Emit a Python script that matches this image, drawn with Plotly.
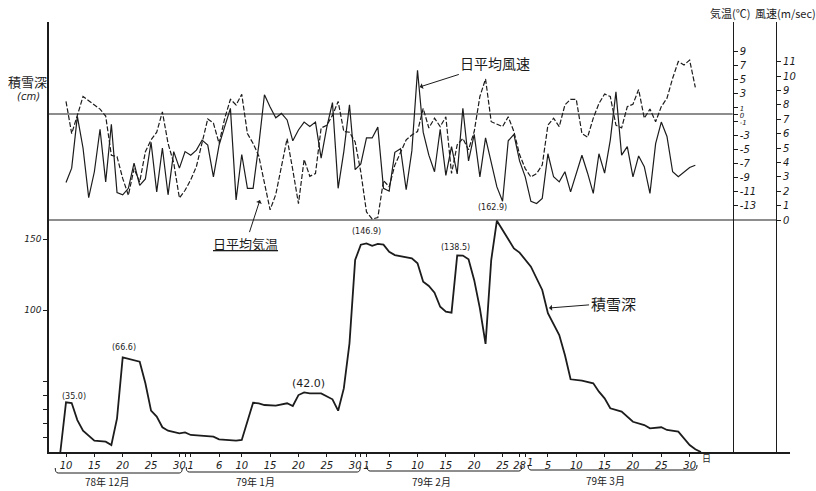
import plotly.graph_objects as go

# Day numbers counted from 1 Dec 1978 (= 1): 1 Jan 1979 = 32, 1 Feb = 63, 1 Mar = 91
obs_days = list(range(10, 122))  # 10 Dec 1978 .. 31 Mar 1979

# daily mean air temperature (deg C)
temp_mean = [
    1.8, -2.8, -0.2, 2.5, 1.9, 1.3, 0.7, -0.3, -5.9, -6.1,
    -9.2, -11.6, -7.8, -9.7, -5.4, -3.7, -2.6, 0.3, -4.2, -7.0,
    -12.0, -10.9, -9.4, -7.5, -4.0, -0.7, -1.3, -4.2, -0.6, 2.1,
    1.3, 2.8, -2.8, -4.2, -6.0, -10.0, -13.7, -11.5, -7.5, -3.5,
    -8.0, -12.8, -6.5, -8.9, -8.5, -2.0, -1.6, -0.2, 1.8, -2.5,
    -2.6, -4.0, -8.3, -14.0, -15.0, -14.8, -9.5, -10.4, -7.3, -5.4,
    -3.7, -3.0, -2.5, 0.8, -2.0, -0.6, -1.8, -0.4, -8.5, -4.4,
    -3.5, -5.1, -2.5, 2.5, 5.0, -1.1, -1.5, -1.8, -0.4, -2.5,
    -5.8, -7.8, -9.0, -8.5, -7.3, -1.6, -0.6, -1.8, 1.3, 2.1,
    2.1, -2.8, -3.3, -0.6, 1.5, 2.85, 2.5, -1.6, -2.0, 1.05,
    1.4, 3.5, -0.6, 0.7, -1.1, 1.05, 2.25, 5.1, 7.5, 7.0,
    7.7, 3.8,
]

# daily mean wind speed (m/sec)
wind_mean = [
    2.6, 3.6, 7.2, 5.0, 1.55, 3.35, 6.3, 2.65, 6.65, 1.9,
    1.75, 2.2, 3.95, 2.4, 2.85, 5.4, 1.95, 5.0, 1.75, 4.75,
    3.6, 4.75, 4.5, 4.85, 5.55, 5.2, 3.0, 5.2, 6.5, 7.75,
    1.4, 4.55, 2.2, 2.2, 5.2, 8.7, 7.85, 7.1, 7.4, 6.95,
    5.5, 6.25, 6.8, 6.5, 6.8, 4.3, 6.45, 8.15, 2.2, 4.75,
    8.0, 3.5, 3.9, 5.7, 5.7, 6.45, 2.2, 2.0, 4.7, 4.95,
    2.1, 4.8, 10.4, 6.1, 4.5, 3.35, 6.3, 3.1, 5.1, 3.2,
    7.75, 4.1, 5.95, 3.0, 5.7, 3.9, 2.3, 1.3, 5.5, 5.95,
    4.1, 3.0, 1.3, 1.15, 1.5, 4.6, 3.0, 2.65, 3.35, 1.95,
    3.25, 4.5, 3.25, 1.85, 4.6, 3.25, 5.55, 8.9, 4.5, 5.1,
    3.0, 4.45, 3.7, 1.85, 5.3, 6.8, 5.8, 3.35, 3.0, 3.35,
    3.65, 3.8,
]

# snow depth (cm)
snow_days = [
    9, 10, 11, 12, 13, 14, 15, 17, 18, 19,
    20, 23, 24, 25, 26, 27, 28, 30, 31, 32,
    34, 36, 37, 40, 41, 43, 44, 45, 47, 49,
    50, 51, 52, 53, 55, 56, 57, 58, 59, 60,
    61, 62, 63, 64, 65, 66, 67, 68, 70, 71,
    72, 73, 74, 75, 76, 77, 78, 79, 80, 81,
    82, 83, 84, 85, 86, 88, 89, 90, 91, 92,
    94, 95, 97, 98, 99, 101, 103, 104, 105, 106,
    108, 109, 110, 112, 113, 115, 116, 118, 119, 120,
    121, 122,
]
snow_depth = [
    0, 35.0, 34.5, 22.5, 15.0, 11.3, 8.0, 7.3, 4.9, 23.7,
    66.6, 63.6, 48.4, 29.1, 24.9, 17.4, 15.0, 13.1, 13.8, 12.0,
    11.5, 10.8, 8.9, 8.0, 8.5, 34.7, 34.3, 33.1, 32.6, 34.3,
    32.4, 40.1, 42.0, 41.3, 41.3, 39.4, 37.1, 29.1, 44.8, 76.5,
    135.2, 146.0, 146.9, 145.2, 146.5, 146.0, 141.0, 138.7, 137.1, 136.4,
    132.9, 119.9, 116.9, 112.2, 102.3, 98.8, 98.1, 138.5, 138.3, 135.7,
    121.0, 101.2, 76.1, 135.2, 162.9, 150.5, 143.4, 140.4, 135.2, 130.5,
    114.1, 97.7, 82.4, 68.3, 51.2, 50.2, 48.4, 42.5, 37.8, 30.8,
    28.4, 24.9, 21.3, 19.0, 16.7, 17.4, 15.5, 14.3, 9.6, 4.9,
    1.9, 0,
]

# snow-depth maxima that carry a value label
peak_days = [10, 20, 52, 63, 79, 86]

# x axis ticks (day numbers) and their labels
x_tick_days = [10, 15, 20, 25, 30, 31,
               32, 37, 41, 46, 51, 56, 61, 62,
               63, 67, 72, 77, 82, 87, 90,
               91, 95, 100, 105, 110, 115, 120]
x_tick_text = ["10", "15", "20", "25", "30", "",
               "1", "6", "10", "15", "20", "25", "30", "",
               "1", "5", "10", "15", "20", "25", "28",
               "", "5", "10", "15", "20", "25", "30"]

snow_tick_vals = [10, 20, 30, 40, 50, 100, 150]
snow_tick_text = ["", "", "", "", "", "100", "150"]

temp_tick_vals = [9, 7, 5, 3, 1, 0, -1, -3, -5, -7, -9, -11, -13]
wind_tick_vals = list(range(0, 12))

month_labels = ["78年 12月", "79年 1月", "79年 2月", "79年 3月"]

# ---- geometry of the figure -------------------------------------------
W, H = 816, 491
L, R, T, B = 49, 790, 22, 452          # plot area in pixels
X0, X1 = 7.0, 137.7                    # day range across the plot area
SNOW_TOP = (B - T) / 1.42              # 1.42 px per cm
TEMP_RANGE = [-(B - 114) / 7.0, (114 - T) / 7.0]      # 0 degC at y=114
WIND_RANGE = [-(B - 220) / 14.4, (220 - T) / 14.4]    # 0 m/s at y=220

INK = "#1c1c1c"
JP = "Noto Sans CJK JP"
NUM = "DejaVu Sans"


def px(x):
    return (x - L) / (R - L)


def py(y):
    return (B - y) / (B - T)


def dx(d):
    return (d - X0) / (X1 - X0)


def note(x, y, text, font, **kw):
    """Free text placed in paper coordinates from a pixel position."""
    fig.add_annotation(xref="paper", yref="paper", x=px(x), y=py(y), text=text,
                       showarrow=False, xanchor="center", yanchor="middle",
                       font=dict(color=INK, **font), **kw)


def temp_label(v):
    # the labels either side of 0 sit very close together; keep them small
    s = str(v)
    return f'<span style="font-size:7px">{s}</span>' if v in (1, 0, -1) else s


temp_axis_pos = px(732.7)
wind_axis_pos = px(776)

fig = go.Figure()
fig.add_trace(go.Scatter(x=snow_days, y=snow_depth, mode="lines", yaxis="y",
                         line=dict(color=INK, width=1.8), hoverinfo="skip"))
fig.add_trace(go.Scatter(x=obs_days, y=wind_mean, mode="lines", yaxis="y3",
                         line=dict(color=INK, width=1.2), hoverinfo="skip"))
fig.add_trace(go.Scatter(x=obs_days, y=temp_mean, mode="lines", yaxis="y2",
                         line=dict(color=INK, width=1.2, dash="5px,2px"),
                         hoverinfo="skip"))

axis_common = dict(showgrid=False, zeroline=False, automargin=False,
                   showline=True, linecolor=INK, tickcolor=INK,
                   ticks="outside", tickwidth=1)

fig.update_layout(
    width=W, height=H, autosize=False,
    margin=dict(l=L, r=W - R, t=T, b=H - B, pad=0),
    paper_bgcolor="white", plot_bgcolor="white",
    showlegend=False,
    font=dict(family=NUM, size=10, color=INK),
    xaxis=dict(range=[X0, X1], linewidth=1.5, ticklen=3, tickangle=0,
               tickvals=x_tick_days, ticktext=x_tick_text,
               tickfont=dict(family=NUM, size=10, style="italic"),
               **axis_common),
    yaxis=dict(range=[0, SNOW_TOP], linewidth=1.5, ticklen=4,
               tickvals=snow_tick_vals, ticktext=snow_tick_text,
               tickfont=dict(family=NUM, size=9, style="italic"),
               **axis_common),
    yaxis2=dict(range=TEMP_RANGE, overlaying="y", anchor="free",
                position=temp_axis_pos, side="right", linewidth=1.2,
                ticklen=4, tickvals=temp_tick_vals,
                ticktext=[temp_label(v) for v in temp_tick_vals],
                tickfont=dict(family=NUM, size=10, style="italic"),
                **axis_common),
    yaxis3=dict(range=WIND_RANGE, overlaying="y", anchor="free",
                position=wind_axis_pos, side="right", linewidth=1.2,
                ticklen=4, tickvals=wind_tick_vals,
                ticktext=[str(v) for v in wind_tick_vals],
                tickfont=dict(family=NUM, size=10, style="italic"),
                **axis_common),
)

# reference lines: 0 degC and 0 m/s
fig.add_shape(type="line", xref="paper", yref="y2", x0=0, x1=temp_axis_pos,
              y0=0, y1=0, line=dict(color=INK, width=1.2))
fig.add_shape(type="line", xref="paper", yref="y3", x0=0, x1=wind_axis_pos,
              y0=0, y1=0, line=dict(color=INK, width=1.2))

# month brackets under the day labels
brackets = [(8.1, 30.5, 473), (31.2, 61.9, 472), (63.1, 90.4, 471), (91.5, 121.3, 470)]
label_pos = [(107, 482), (255, 482), (431, 481), (605, 480)]
e = 3 / (R - L)
for (a, b, ypix), text, (lx, ly) in zip(brackets, month_labels, label_pos):
    x0, x1 = dx(a), dx(b)
    yl, yh = py(ypix), py(ypix - 5)
    fig.add_shape(type="path", xref="paper", yref="paper",
                  path=f"M {x0},{yh} Q {x0},{yl} {x0 + e},{yl} L {x1 - e},{yl} Q {x1},{yl} {x1},{yh}",
                  line=dict(color=INK, width=1))
    note(lx, ly, text, dict(family=JP, size=10))

# day label for 1 March (kept clear of "28") and the trailing 日
fig.add_annotation(xref="x", yref="paper", x=91, y=py(462), xshift=5, text="1",
                   showarrow=False, xanchor="center", yanchor="middle",
                   font=dict(family=NUM, size=10, style="italic", color=INK))
note(706, 458, "日", dict(family=JP, size=9))

# axis captions
note(27, 81, "積雪深", dict(family=JP, size=13))
note(28, 97, "(cm)", dict(family=NUM, size=10, style="italic"))
note(730, 13, "気温(℃)", dict(family=JP, size=11))
note(785, 13, "風速(m/sec)", dict(family=JP, size=11))

# snow-depth maxima labels
label_shift = {10: (8, 6), 20: (1, 10), 52: (4, 9), 63: (0, 12), 79: (-2, 8), 86: (-4, 13)}
for d in peak_days:
    v = snow_depth[snow_days.index(d)]
    xs, ys = label_shift[d]
    fig.add_annotation(x=d, y=v, xref="x", yref="y", text=f"({v:.1f})",
                       showarrow=False, xshift=xs, yshift=ys,
                       xanchor="center", yanchor="middle",
                       font=dict(family=NUM, size=11 if d == 52 else 8, color=INK))

# line captions with arrows
arrow = dict(showarrow=True, arrowhead=1, arrowsize=1, arrowwidth=1,
             arrowcolor=INK, standoff=0)
fig.add_annotation(x=72.4, y=9.24, xref="x", yref="y3", ax=75, ay=-24,
                   text="日平均風速", font=dict(family=JP, size=14, color=INK), **arrow)
fig.add_annotation(x=44.2, y=-12.3, xref="x", yref="y2", ax=-14, ay=43,
                   text="<u>日平均気温</u>", font=dict(family=JP, size=13, color=INK), **arrow)
fig.add_annotation(x=95.2, y=101.4, xref="x", yref="y", ax=64, ay=-5,
                   text="積雪深", font=dict(family=JP, size=15, color=INK), **arrow)

fig.write_html("out.html")
